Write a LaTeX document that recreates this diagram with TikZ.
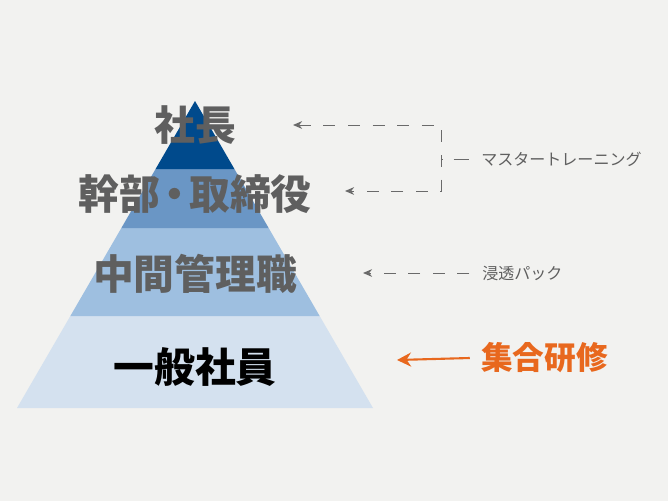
\documentclass[tikz,border=0pt]{standalone}
\usepackage{fontspec}
\newfontfamily\cjk{Noto Sans CJK JP}
\usetikzlibrary{arrows.meta, positioning, calc}
\definecolor{bgpaper}{HTML}{F2F2F0}
\definecolor{tierA}{HTML}{004A8C}
\definecolor{tierB}{HTML}{6A96C5}
\definecolor{tierC}{HTML}{9EBFE0}
\definecolor{tierD}{HTML}{D4E1EF}
\definecolor{txtgray}{HTML}{5F5F5F}
\definecolor{lngray}{HTML}{6A6A6A}
\definecolor{accent}{HTML}{E8681E}

\begin{document}
\begin{tikzpicture}[
      x=0.025cm, y=-0.025cm,
      tier/.style={font=\cjk\bfseries\fontsize{29}{29}\selectfont,
        text=txtgray, inner sep=0pt},
      note/.style={font=\cjk\fontsize{11.4}{12}\selectfont,
        text=txtgray, inner sep=0pt, anchor=west},
      dline/.style={draw=lngray, line width=0.7pt,
        dash pattern=on 8.5pt off 9pt},
      darrow/.style={dline, -{Stealth[length=6.5pt, width=5.5pt]}},
      solidarrow/.style={draw=accent, line width=1.5pt,
        -{Stealth[length=10pt, width=10pt]}}
    ]
      \useasboundingbox[fill=bgpaper] (0,0) rectangle (668,501);

      % pyramid
      \coordinate (apex) at (195,101);
      \coordinate (bl) at (17,408);
      \coordinate (br) at (373,408);
      \fill[tierD] (bl) -- (br) -- ($(apex)!0.7003!(br)$) -- ($(apex)!0.7003!(bl)$) -- cycle;
      \fill[tierC] ($(apex)!0.7003!(bl)$) -- ($(apex)!0.7003!(br)$) -- ($(apex)!0.4137!(br)$) -- ($(apex)!0.4137!(bl)$) -- cycle;
      \fill[tierB] ($(apex)!0.4137!(bl)$) -- ($(apex)!0.4137!(br)$) -- ($(apex)!0.2215!(br)$) -- ($(apex)!0.2215!(bl)$) -- cycle;
      \fill[tierA] ($(apex)!0.2215!(bl)$) -- ($(apex)!0.2215!(br)$) -- (apex) -- cycle;

      \node[tier] (ceo) at (195,125) {社長};
      \node[tier] (exec) at (195,194) {幹部\kern-4pt・\kern-4pt 取締役};
      \node[tier] (mid) at (195,274) {中間管理職};
      \node[tier, text=black] (staff) at (195,367) {一般社員};

      % training labels
      \node[note] (master) at (481,159) {マスタートレーニング};
      \node[note] (pack) at (482,273) {浸透パック};
      \node[note, font=\cjk\bfseries\fontsize{22.5}{23}\selectfont,
        text=accent] (group) at (481,358) {集合研修};

      \coordinate (tipceo) at (293,125);
      \coordinate (tipexec) at (345,191);
      \coordinate (tipmid) at (363,273);
      \coordinate (tipstaff) at (397,360);
      \coordinate (brktop) at (441,125);
      \coordinate (brkbot) at (441,191);

      \draw[dline, {Stealth[length=6.5pt, width=5.5pt]}-{Stealth[length=6.5pt, width=5.5pt]}]
        (tipceo) -- (brktop) -- (brkbot) -- (tipexec);
      \draw[dline, dash pattern=on 1.5pt off 7.5pt on 11pt off 20pt]
        (brktop |- master.west) -- ([xshift=-7pt]master.west);
      \draw[darrow] ([xshift=-9pt]pack.west) -- (tipmid);
      \draw[solidarrow] ([xshift=-8pt]group.west) -- (tipstaff);
    \end{tikzpicture}
\end{document}
